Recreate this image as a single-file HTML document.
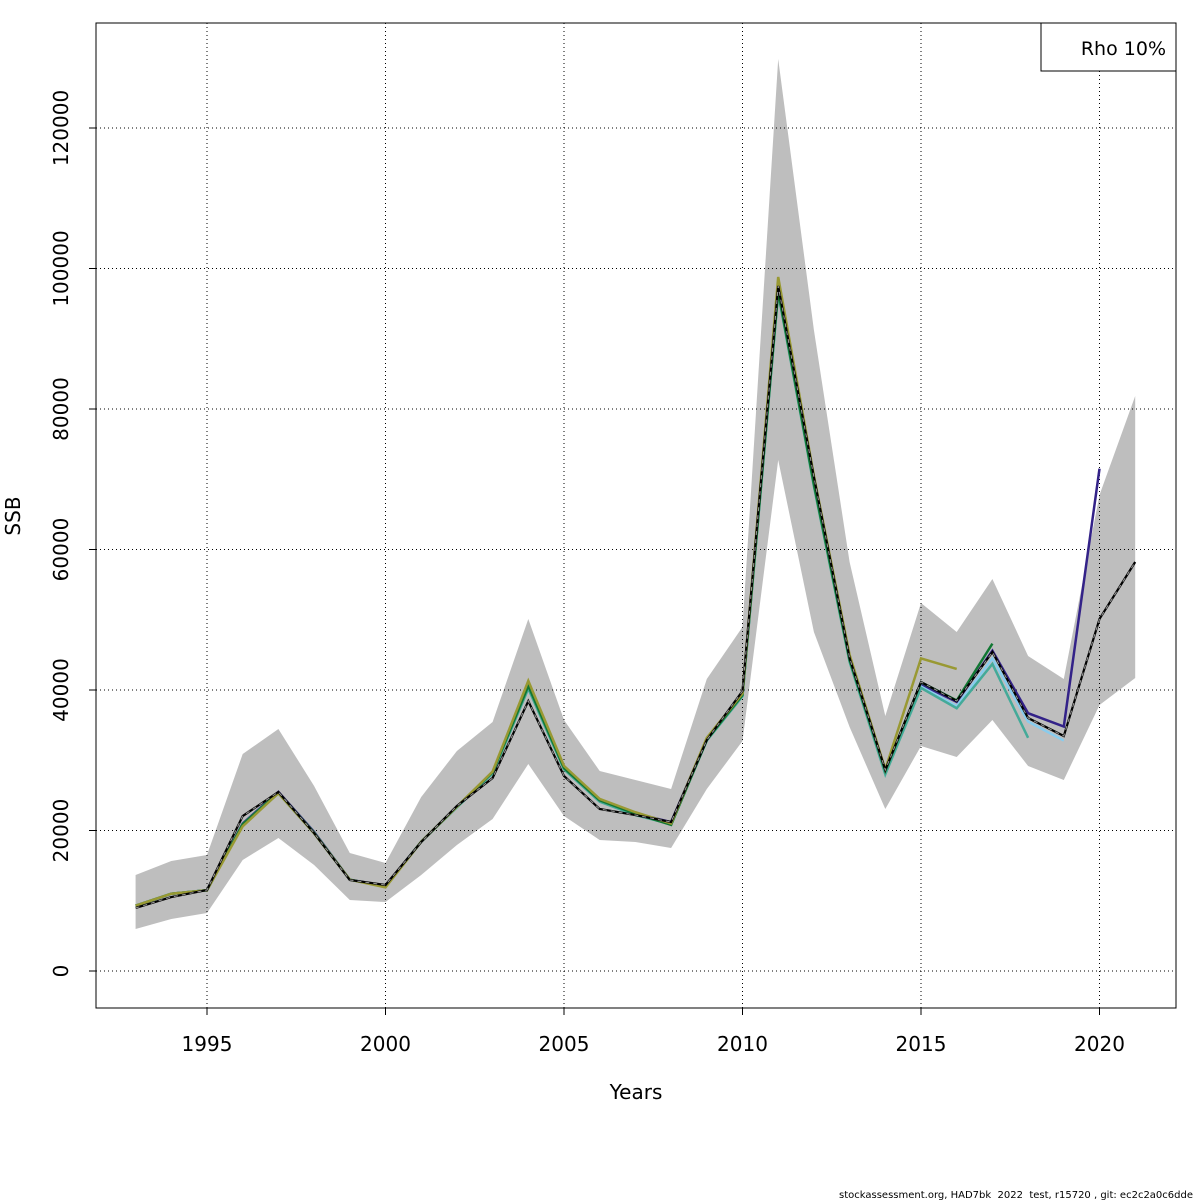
<!DOCTYPE html>
<html><head><meta charset="utf-8"><style>
body{margin:0;background:#fff;}
svg{display:block;font-family:"DejaVu Sans","Liberation Sans",sans-serif;}
</style></head><body>
<svg id="chart" width="1200" height="1200" viewBox="0 0 1200 1200"></svg>
<script>
const years=[1993,1994,1995,1996,1997,1998,1999,2000,2001,2002,2003,2004,2005,2006,2007,2008,2009,2010,2011,2012,2013,2014,2015,2016,2017,2018,2019,2020,2021];
const baseSSB=[8970,10530,11530,22060,25480,19640,12950,12240,18360,23490,27470,38430,27760,23060,22200,21210,32880,39860,97510,70320,44560,28610,41140,38430,45410,36010,33450,50110,58220];
const upperCI=[13670,15660,16510,30890,34450,26340,16800,15370,24770,31320,35450,50110,35730,28470,27190,25910,41570,48970,129820,91250,58220,36300,52390,48260,55800,44840,41570,67760,81850];
const lowerCI=[5980,7400,8260,15800,18930,15090,10110,9820,13670,17940,21640,29470,22060,18650,18360,17510,25910,32740,72740,48260,34730,23060,32030,30460,35730,29180,27190,37870,41710];
const peel1=[9300,11000,11500,21000,25500,19800,13000,12100,18400,23400,28200,40500,28800,24300,22400,21200,33000,39300,96800,69500,44300,28400,40800,38300,45600,36700,34800,71500];
const peel2=[9300,11000,11500,20900,25400,19700,13000,12000,18400,23400,28200,40400,28800,24200,22300,21000,32900,39200,96800,69200,44200,28300,40500,37700,44500,35500,32800];
const peel3=[9300,11000,11500,20800,25300,19600,13000,12000,18400,23300,28100,40200,28700,24100,22200,20900,32800,39100,96500,69000,44000,28000,40300,37400,43700,33200];
const peel4=[9300,11000,11500,20900,25400,19700,13000,12000,18400,23400,28300,40600,28900,24300,22400,20800,32900,39300,96800,69300,44300,28500,41100,38500,46600];
const peel5=[9300,11000,11500,20600,25300,19600,13000,11900,18400,23400,28400,41300,29200,24500,22600,21000,33200,39500,98800,70500,45000,28700,44500,43000];
const peels=[[peel1,"#332288","peel-2020"],[peel2,"#88CCEE","peel-2019"],[peel3,"#44AA99","peel-2018"],[peel4,"#117733","peel-2017"],[peel5,"#999933","peel-2016"]];
const xTicks=[1995,2000,2005,2010,2015,2020];
const yTicks=[0,20000,40000,60000,80000,100000,120000];

const NS="http://www.w3.org/2000/svg";
const svg=document.getElementById("chart");
const X=y=>207+(y-1995)*35.7;
const Y=v=>971-v*140.5/20000;
function mk(t,a,parent){const e=document.createElementNS(NS,t);for(const k in a)e.setAttribute(k,a[k]);(parent||svg).appendChild(e);return e;}

let pts=years.map((y,i)=>X(y)+","+Y(upperCI[i]));
for(let i=years.length-1;i>=0;i--)pts.push(X(years[i])+","+Y(lowerCI[i]));
const band=mk("polygon",{points:pts.join(" "),fill:"#bebebe",stroke:"none"});



xTicks.forEach(t=>{const g=mk("line",{x1:X(t),x2:X(t),y1:23,y2:1008,stroke:"#000","stroke-width":1,"stroke-dasharray":"1,3"});

});
yTicks.forEach(t=>{const g=mk("line",{x1:96,x2:1176,y1:Y(t),y2:Y(t),stroke:"#000","stroke-width":1,"stroke-dasharray":"1,3"});

});

peels.forEach(([d,c,n])=>{const l=mk("polyline",{points:d.map((v,i)=>X(years[i])+","+Y(v)).join(" "),fill:"none",stroke:c,"stroke-width":2.5});

});

const bp=baseSSB.map((v,i)=>X(years[i])+","+Y(v)).join(" ");
mk("polyline",{points:bp,fill:"none",stroke:"#000","stroke-width":2.2});
const bl=mk("polyline",{points:bp,fill:"none",stroke:"#999","stroke-width":1,"stroke-dasharray":"4,4"});



const fr=mk("rect",{x:96,y:23,width:1080,height:985,fill:"none",stroke:"#000","stroke-width":1});



xTicks.forEach(t=>{mk("line",{x1:X(t),x2:X(t),y1:1008,y2:1015,stroke:"#000"});
const tx=mk("text",{x:X(t),y:1051,"font-size":20,"text-anchor":"middle"});tx.textContent=t;

});
yTicks.forEach(t=>{mk("line",{x1:89,x2:96,y1:Y(t),y2:Y(t),stroke:"#000"});
const tx=mk("text",{x:0,y:0,"font-size":20,"text-anchor":"middle",transform:`translate(68,${Y(t)}) rotate(-90)`});tx.textContent=t;

});

const xt=mk("text",{x:636,y:1099,"font-size":20,"text-anchor":"middle"});xt.textContent="Years";


const yt=mk("text",{x:0,y:0,"font-size":20,"text-anchor":"middle",transform:"translate(20,516) rotate(-90)"});yt.textContent="SSB";



const lg=mk("rect",{x:1041,y:23,width:135,height:48,fill:"#fff",stroke:"#000"});


const lt=mk("text",{x:1166,y:55,"font-size":19,"text-anchor":"end"});lt.textContent="Rho 10%";



const ft=mk("text",{x:1193,y:1198,"font-size":10,"text-anchor":"end","xml:space":"preserve"});ft.textContent="stockassessment.org, HAD7bk\u00a0\u00a02022\u00a0\u00a0test, r15720 , git: ec2c2a0c6dde";


</script>
</body></html>
